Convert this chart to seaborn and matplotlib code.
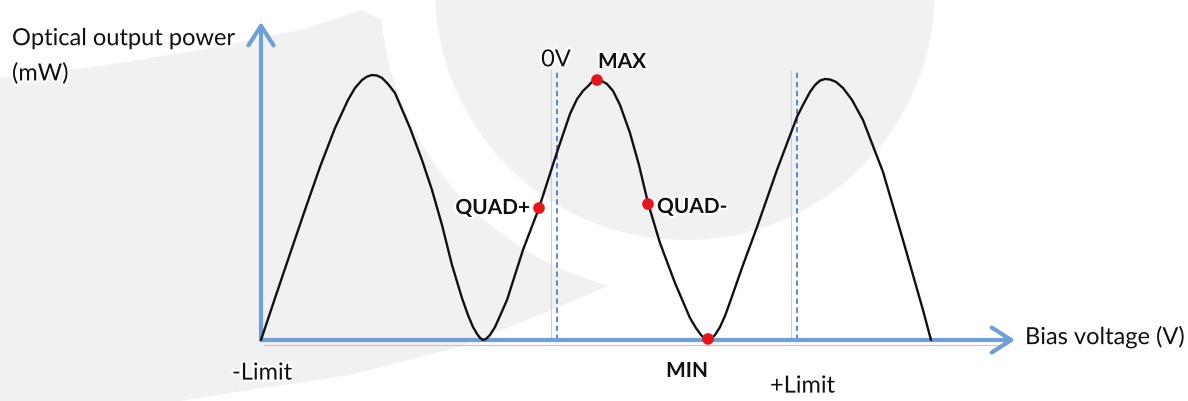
import numpy as np
import matplotlib.pyplot as plt
import matplotlib.patheffects as pe
from matplotlib.patches import Polygon, Circle
import seaborn as sns

# Transfer curve of the modulator
# bias in arbitrary units relative to the 0V line, power normalised to the first peak
bias = [-29.6, -28.2, -26.7, -25.2, -23.7, -22.2, -20.9, -20.2, -19.5, -19.0,
        -18.5, -18.0, -17.5, -16.9, -16.2, -14.7, -13.5, -12.5, -11.5, -10.5,
        -9.5, -8.9, -8.4, -8.0, -7.7, -7.4, -7.1, -6.7, -6.2, -5.7,
        -5.0, -3.4, -1.8, 0.0, 1.3, 2.0, 2.6, 3.1, 3.5, 4.0,
        4.5, 5.0, 5.6, 6.3, 7.3, 8.2, 9.1, 10.3, 11.8, 13.3,
        13.9, 14.4, 14.8, 15.1, 15.4, 15.8, 16.3, 16.8, 17.3, 18.6,
        20.0, 22.0, 24.0, 24.6, 25.3, 25.8, 26.3, 26.8, 27.3, 27.9,
        28.6, 29.5, 30.6, 32.6, 34.6, 36.6, 37.4]
power = [0.000, 0.158, 0.325, 0.491, 0.653, 0.800, 0.906, 0.951, 0.981, 0.994,
         1.000, 0.998, 0.989, 0.966, 0.932, 0.800, 0.679, 0.566, 0.434, 0.283,
         0.158, 0.094, 0.049, 0.023, 0.008, 0.000, 0.004, 0.019, 0.049, 0.091,
         0.151, 0.340, 0.498, 0.709, 0.853, 0.909, 0.940, 0.958, 0.974, 0.981,
         0.977, 0.966, 0.940, 0.887, 0.781, 0.660, 0.517, 0.366, 0.215, 0.083,
         0.045, 0.019, 0.004, 0.000, 0.004, 0.019, 0.049, 0.091, 0.143, 0.283,
         0.426, 0.642, 0.842, 0.887, 0.936, 0.962, 0.979, 0.985, 0.983, 0.974,
         0.951, 0.906, 0.830, 0.634, 0.377, 0.113, 0.000]

# operating points
point_names = ['MAX', 'QUAD+', 'QUAD-', 'MIN']
point_bias = [4.0, -1.8, 9.1, 15.1]
point_power = [0.981, 0.498, 0.513, 0.004]

# limits / reference lines
limit_neg = -29.6
zero_volt = 0.0
limit_pos = 24.0
axis_x_end = 45.8
axis_y_end = 1.20
ref_top = 1.02

sns.set_theme(style='white')
plt.rcParams['font.family'] = ['Lato', 'DejaVu Sans']

fig = plt.figure(figsize=(11.88, 4.01), dpi=100)

# watermark in the background (pixel coordinates)
bg = fig.add_axes([0, 0, 1, 1], zorder=0)
bg.set_xlim(0, 1188)
bg.set_ylim(401, 0)
bg.axis('off')
grey = '#f1f1f1'
bg.add_patch(Circle((685, -10), 250, facecolor=grey, edgecolor='none'))
ang = np.linspace(np.arctan2(30, -303), np.arctan2(292, -75), 60)
arc = np.column_stack([685 + 305 * np.cos(ang), -10 + 305 * np.sin(ang)])
top_edge = np.array([[0, 78], [100, 66], [200, 50], [300, 30], [363, 10]])
bottom_edge = np.array([[540, 315], [459, 347], [350, 375], [230, 393], [180, 401], [0, 401]])
bg.add_patch(Polygon(np.vstack([top_edge, arc, bottom_edge]), closed=True,
                     facecolor=grey, edgecolor='none'))

ax = fig.add_axes([0, 0, 1, 1], zorder=1)
ax.patch.set_alpha(0)
ax.set_xlim(-55.7, 63.1)
ax.set_ylim(-0.2302, 1.283)
ax.axis('off')

axis_blue = '#6f9fd6'
dash_blue = '#4f82c4'

# soft shadow under the horizontal axis
ax.plot([limit_neg + 0.3, axis_x_end - 1.5], [-0.019, -0.019], color='#c4c4c4', lw=0.8, zorder=1)

# reference lines (0V and +Limit)
for xv in [zero_volt, limit_pos]:
    ax.plot([xv - 0.6, xv - 0.6], [0, ref_top], color='#d0d0d0', lw=0.8, zorder=1)
    ax.plot([xv, xv], [0, ref_top], color=dash_blue, lw=1.3, ls=(0, (3, 2)), zorder=2)

# axes with arrow heads
arrow = dict(arrowstyle='->,head_length=0.7,head_width=0.45', lw=3, color=axis_blue,
             mutation_scale=20, shrinkA=0, shrinkB=0)
ax.annotate('', xy=(limit_neg, axis_y_end), xytext=(limit_neg, 0), arrowprops=arrow, zorder=3)
ax.annotate('', xy=(axis_x_end, 0), xytext=(limit_neg, 0), arrowprops=arrow, zorder=3)

# transfer curve and operating points
sns.lineplot(x=bias, y=power, sort=False, color='#111111', lw=1.7, ax=ax, zorder=4)
sns.scatterplot(x=point_bias, y=point_power, color='#e8141c', s=70, edgecolor='none',
                ax=ax, zorder=5)

halo = [pe.withStroke(linewidth=3, foreground='white')]
reg = dict(fontsize=17, color='#111111', path_effects=halo, zorder=6)
bold = dict(fontsize=15, color='#111111', fontweight='bold', path_effects=halo, zorder=6)

ax.text(-54.5, 1.137, 'Optical output power', ha='left', va='center', **reg)
ax.text(-54.5, 1.005, '(mW)', ha='left', va='center', **reg)
ax.text(-0.1, 1.057, '0V', ha='center', va='center', **reg)
ax.text(4.1, 1.049, 'MAX', ha='left', va='center', **bold)
ax.text(-2.7, 0.498, 'QUAD+', ha='right', va='center', **bold)
ax.text(10.0, 0.502, 'QUAD-', ha='left', va='center', **bold)
ax.text(13.0, -0.117, 'MIN', ha='center', va='center', **bold)
ax.text(-32.5, -0.125, '-Limit', ha='left', va='center', **reg)
ax.text(21.3, -0.174, '+Limit', ha='left', va='center', **reg)
ax.text(46.8, 0.011, 'Bias voltage (V)', ha='left', va='center', **reg)

fig.savefig('out.png', dpi=100, facecolor='white')
